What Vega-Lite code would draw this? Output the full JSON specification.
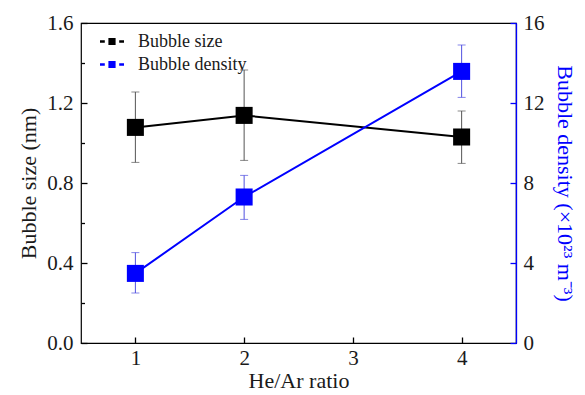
{
  "$schema": "https://vega.github.io/schema/vega-lite/v6.json",
  "width": 435,
  "height": 320,
  "autosize": {"type": "none"},
  "padding": {"left": 81, "top": 23, "right": 69, "bottom": 52},
  "config": {
    "font": "Liberation Serif",
    "view": {"stroke": "#000000", "strokeWidth": 1.2},
    "style": {
      "guide-label": {"font": "Liberation Serif"},
      "guide-title": {"font": "Liberation Serif"}
    },
    "axis": {
      "labelFont": "Liberation Serif",
      "titleFont": "Liberation Serif",
      "labelFontSize": 21,
      "titleFontSize": 22,
      "titleFontWeight": "normal",
      "labelColor": "#1a1a1a",
      "titleColor": "#1a1a1a",
      "grid": false,
      "zindex": 1
    },
    "legend": {"labelFont": "Liberation Serif", "labelFontSize": 18}
  },
  "data": {
    "values": [
      {"ratio": 1, "series": "Bubble size", "value": 1.078, "lo": 0.903, "hi": 1.255},
      {"ratio": 2, "series": "Bubble size", "value": 1.138, "lo": 0.913, "hi": 1.365},
      {"ratio": 4, "series": "Bubble size", "value": 1.03, "lo": 0.898, "hi": 1.16},
      {"ratio": 1, "series": "Bubble density", "value": 3.48, "lo": 2.5, "hi": 4.52},
      {"ratio": 2, "series": "Bubble density", "value": 7.3, "lo": 6.18, "hi": 8.38},
      {"ratio": 4, "series": "Bubble density", "value": 13.58, "lo": 12.28, "hi": 14.9}
    ]
  },
  "encoding": {
    "x": {
      "field": "ratio",
      "type": "quantitative",
      "scale": {"domain": [0.5, 4.5]},
      "axis": {"values": [1, 2, 3, 4], "format": "d", "title": "He/Ar ratio", "titlePadding": 2, "domain": false, "ticks": true, "tickSize": -6, "tickColor": "#000000", "tickWidth": 1.3, "labelPadding": 10}
    }
  },
  "layer": [
    {
      "transform": [{"filter": "datum.series === 'Bubble size'"}],
      "layer": [
        {
          "mark": {"type": "errorbar", "ticks": {"size": 8, "thickness": 1}, "color": "#555555", "thickness": 1},
          "encoding": {
            "y": {
              "field": "lo",
              "type": "quantitative",
              "scale": {"domain": [0, 1.6]},
              "axis": {
                "orient": "left",
                "values": [0, 0.4, 0.8, 1.2, 1.6],
                "format": ".1f",
                "title": "Bubble size (nm)",
                "titlePadding": 6,
                "domain": false,
                "ticks": true,
                "tickSize": -6,
                "tickColor": "#000000",
                "tickWidth": 1.3,
                "labelPadding": 14
              }
            },
            "y2": {"field": "hi"}
          }
        },
        {
          "mark": {"type": "line", "color": "#000000", "strokeWidth": 2},
          "encoding": {
            "y": {
              "field": "value",
              "type": "quantitative",
              "scale": {"domain": [0, 1.6]},
              "axis": {
                "orient": "left",
                "values": [0.2, 0.6, 1.0, 1.4],
                "labels": false,
                "title": null,
                "domain": false,
                "ticks": true,
                "tickSize": -3.5,
                "tickColor": "#000000",
                "tickWidth": 1.3
              }
            }
          }
        },
        {
          "mark": {"type": "point", "shape": "square", "filled": true, "size": 290, "opacity": 1},
          "encoding": {
            "y": {"field": "value", "type": "quantitative", "scale": {"domain": [0, 1.6]}, "axis": null},
            "color": {
              "field": "series",
              "type": "nominal",
              "scale": {"domain": ["Bubble size", "Bubble density"], "range": ["#000000", "#0000ff"]},
              "legend": {
                "title": null,
                "orient": "none",
                "legendX": 19,
                "legendY": 7,
                "padding": 0,
                "labelFont": "Liberation Serif",
                "labelFontSize": 18,
                "labelColor": "#1a1a1a",
                "symbolType": "M-1,-0.1H-0.6V0.1H-1Z M-0.3,-0.3H0.3V0.3H-0.3Z M0.6,-0.1H1V0.1H0.6Z",
                "symbolSize": 576,
                "symbolStrokeWidth": 0,
                "labelOffset": 14,
                "rowPadding": 0,
                "clipHeight": 23
              }
            }
          }
        }
      ],
      "resolve": {"axis": {"y": "independent"}}
    },
    {
      "transform": [{"filter": "datum.series === 'Bubble density'"}],
      "layer": [
        {
          "mark": {"type": "errorbar", "ticks": {"size": 8, "thickness": 1}, "color": "#5050e0", "thickness": 1},
          "encoding": {
            "y": {
              "field": "lo",
              "type": "quantitative",
              "scale": {"domain": [0, 16]},
              "axis": {
                "orient": "right",
                "values": [0, 4, 8, 12, 16],
                "format": "d",
                "title": "Bubble density (×10²³ m⁻³)",
                "titleColor": "#0000ff",
                "domain": true,
                "domainColor": "#0000ff",
                "domainWidth": 1.3,
                "ticks": true,
                "tickColor": "#0000ff",
                "tickSize": -6,
                "tickWidth": 1.3,
                "titlePadding": 8,
                "labelPadding": 13
              }
            },
            "y2": {"field": "hi"}
          }
        },
        {
          "mark": {"type": "line", "color": "#0000ff", "strokeWidth": 2},
          "encoding": {
            "y": {"field": "value", "type": "quantitative", "scale": {"domain": [0, 16]}, "axis": null}
          }
        },
        {
          "mark": {"type": "point", "shape": "square", "filled": true, "size": 290, "opacity": 1},
          "encoding": {
            "y": {"field": "value", "type": "quantitative", "scale": {"domain": [0, 16]}, "axis": null},
            "color": {
              "field": "series",
              "type": "nominal",
              "scale": {"domain": ["Bubble size", "Bubble density"], "range": ["#000000", "#0000ff"]},
              "legend": {
                "title": null,
                "orient": "none",
                "legendX": 19,
                "legendY": 7,
                "padding": 0,
                "labelFont": "Liberation Serif",
                "labelFontSize": 18,
                "labelColor": "#1a1a1a",
                "symbolType": "M-1,-0.1H-0.6V0.1H-1Z M-0.3,-0.3H0.3V0.3H-0.3Z M0.6,-0.1H1V0.1H0.6Z",
                "symbolSize": 576,
                "symbolStrokeWidth": 0,
                "labelOffset": 14,
                "rowPadding": 0,
                "clipHeight": 23
              }
            }
          }
        }
      ],
      "resolve": {"axis": {"y": "independent"}}
    }
  ],
  "resolve": {"scale": {"y": "independent"}}
}
